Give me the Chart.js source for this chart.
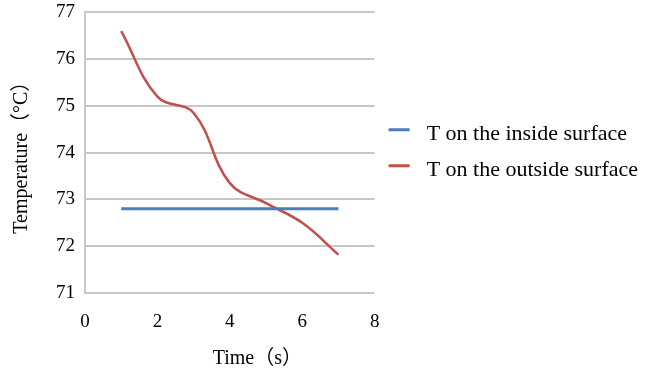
<!DOCTYPE html>
<html>
<head>
<meta charset="utf-8">
<script src="https://cdn.jsdelivr.net/npm/chart.js@4/dist/chart.umd.min.js"></script>
<style>
  html, body { margin: 0; padding: 0; background: #ffffff; }
  #wrap { width: 653px; height: 374px; }
</style>
</head>
<body>
<div id="wrap"><canvas id="chart" width="653" height="374"></canvas></div>
<script>
// Time samples (s) and surface temperatures (°C)
const timeSeconds = [1, 2, 3, 4, 5, 6, 7];
const insideSurfaceT = [72.8, 72.8, 72.8, 72.8, 72.8, 72.8, 72.8];
const outsideSurfaceT = [76.6, 75.2, 74.85, 73.35, 72.92, 72.5, 71.82];
const seriesNames = ['T on the inside surface', 'T on the outside surface'];
const xTitle = 'Time（s）';
const yTitle = 'Temperature（°C）';

const serif = "'Liberation Serif', 'Times New Roman', 'Noto Sans CJK SC', serif";
const gridGray = '#c8c8c8';
const clear = 'rgba(0,0,0,0)';

const toPoints = (xs, ys) => xs.map((x, i) => ({ x: x, y: ys[i] }));

// Time axis title, set a little right of the plot centre under the tick labels
const timeAxisTitle = {
  id: 'timeAxisTitle',
  afterDraw(chart) {
    const { ctx, chartArea } = chart;
    ctx.save();
    ctx.font = '20px ' + serif;
    ctx.fillStyle = '#000000';
    ctx.textAlign = 'center';
    ctx.textBaseline = 'middle';
    const cx = chartArea.left + 0.595 * (chartArea.right - chartArea.left);
    ctx.fillText(xTitle, cx, chart.height - 15);
    ctx.restore();
  }
};

new Chart(document.getElementById('chart'), {
  type: 'line',
  data: {
    datasets: [
      {
        label: seriesNames[0],
        data: toPoints(timeSeconds, insideSurfaceT),
        borderColor: '#4a7ebb',
        backgroundColor: '#4a7ebb',
        borderWidth: 3,
        pointRadius: 0,
        tension: 0
      },
      {
        label: seriesNames[1],
        data: toPoints(timeSeconds, outsideSurfaceT),
        borderColor: '#c0504d',
        backgroundColor: '#c0504d',
        borderWidth: 2.5,
        pointRadius: 0,
        tension: 0.4
      }
    ]
  },
  plugins: [timeAxisTitle],
  options: {
    responsive: false,
    animation: false,
    devicePixelRatio: 1,
    layout: { padding: { left: 2, right: 5, top: 0, bottom: 38.6 } },
    plugins: {
      tooltip: { enabled: false },
      legend: {
        position: 'right',
        fullSize: false,
        align: 'center',
        maxWidth: 300,
        labels: {
          font: { family: serif, size: 22 },
          color: '#000000',
          boxWidth: 27,
          boxHeight: 10,
          padding: 14,
          // short line swatch: only the top edge of the box is stroked
          generateLabels(chart) {
            const items = Chart.defaults.plugins.legend.labels.generateLabels(chart);
            return items.map(it => Object.assign(it, {
              fillStyle: clear,
              lineWidth: 3,
              lineDash: [21, 200],
              lineCap: 'butt'
            }));
          }
        }
      }
    },
    scales: {
      x: {
        type: 'linear',
        min: 0,
        max: 8,
        // invisible tick marks keep the labels clear of the axis
        grid: { display: true, drawOnChartArea: false, drawTicks: true, tickLength: 15.6, tickColor: clear, color: clear },
        border: { display: false },
        ticks: {
          stepSize: 2,
          padding: 2,
          font: { family: serif, size: 19 },
          color: '#000000'
        },
        title: { display: false }
      },
      y: {
        type: 'linear',
        min: 71,
        max: 77,
        grid: { color: gridGray, lineWidth: 2, drawTicks: true, tickLength: 9, tickColor: clear },
        border: { display: true, color: gridGray, width: 2 },
        ticks: {
          stepSize: 1,
          padding: 1,
          font: { family: serif, size: 19 },
          color: '#000000'
        },
        title: {
          display: true,
          text: yTitle,
          font: { family: serif, size: 20 },
          color: '#000000',
          padding: { top: 8, bottom: 21 }
        }
      }
    }
  }
});
</script>
</body>
</html>
